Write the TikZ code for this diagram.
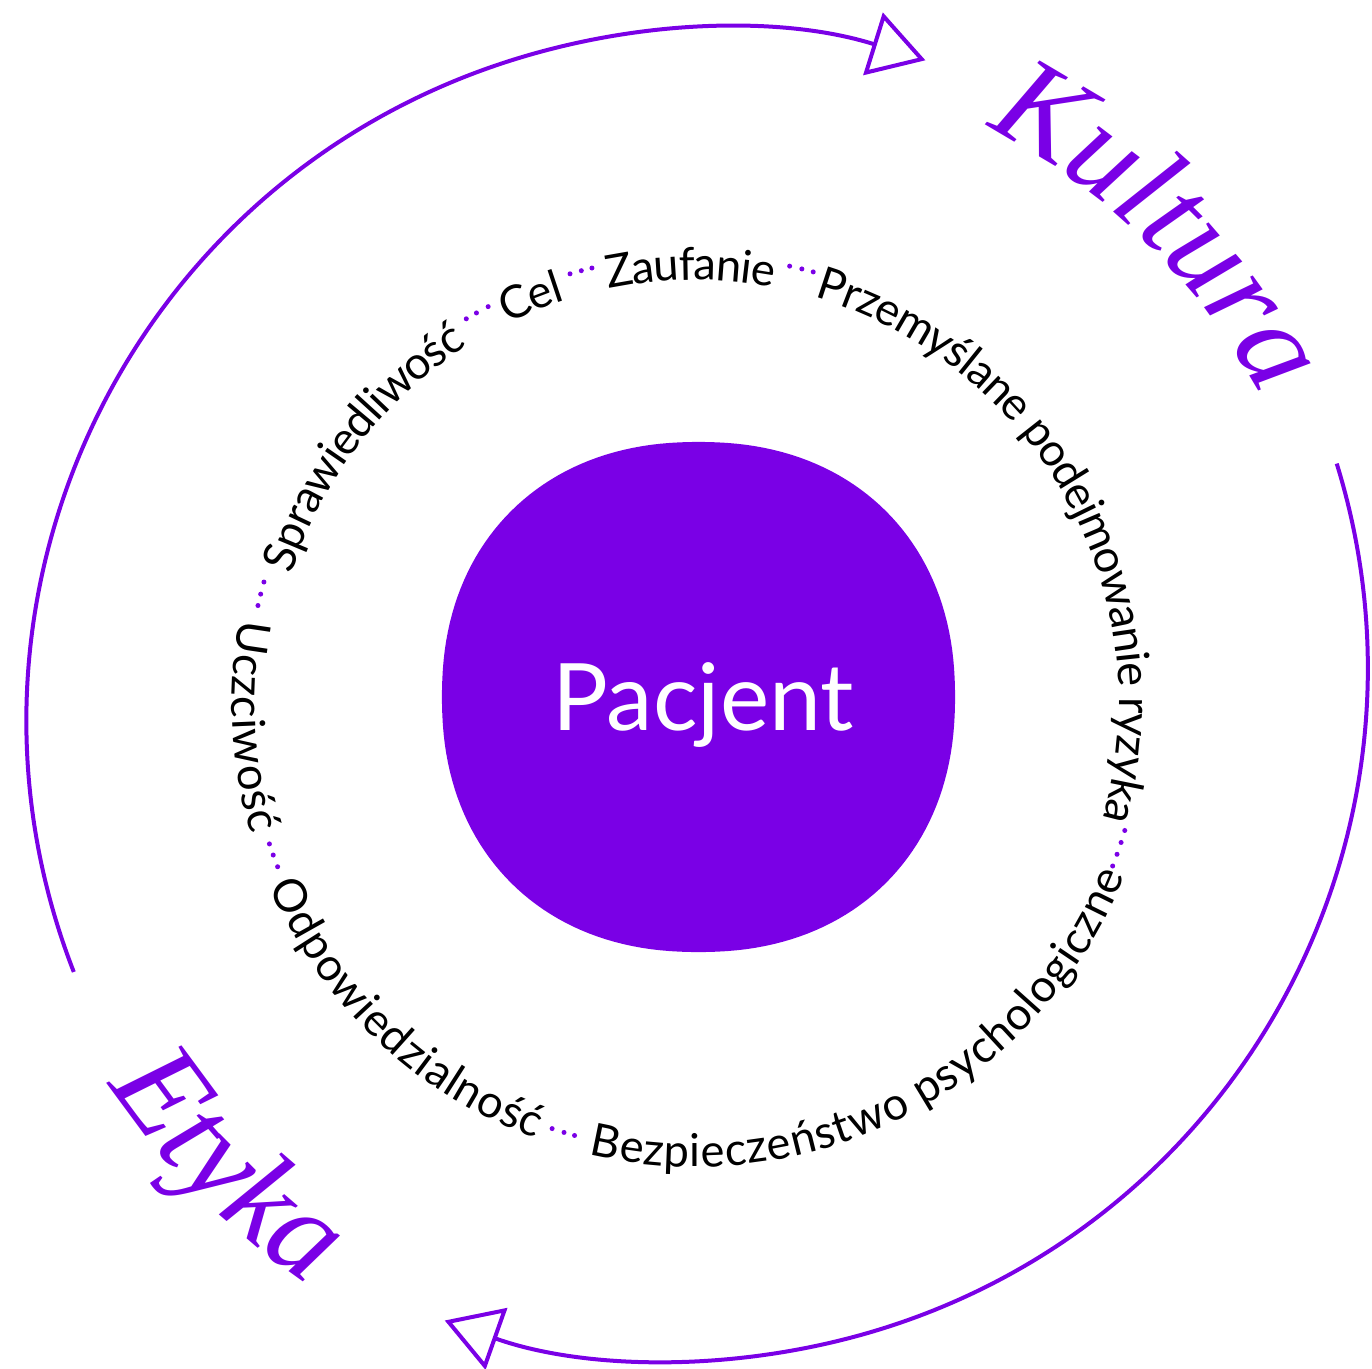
\documentclass[tikz,border=0pt]{standalone}
\usepackage{fontspec}
\setmainfont{Lato}
\newfontfamily\titlefont{Liberation Serif}
\usetikzlibrary{arrows.meta,decorations.text}
\definecolor{ringpurple}{RGB}{122,0,230}

\tikzset{
  cyclearrow/.style={draw=ringpurple, line width=0.8mm, -{Triangle[open,length=11mm,width=13mm]}},
  topword/.style={decorate, decoration={text along path, text align=center, raise=-4.6mm, text={|\RINGFONT|#1}}},
  botword/.style={decorate, decoration={text along path, text align=center, raise=-3.2mm, text={|\RINGFONT|#1}}},
  bigword/.style={decorate, decoration={text along path, text align=center, text color=ringpurple, text={|\BIGFONT|#1}}},
  ringdot/.style={fill=ringpurple}
}

\begin{document}
\begin{tikzpicture}[x=0.2mm, y=0.2mm]

\def\RINGFONT{\fontsize{25.8pt}{30pt}\selectfont}
\def\BIGFONT{\titlefont\itshape\fontsize{72pt}{78pt}\selectfont}
\def\RINGR{447}
\def\DOTR{448}
	\useasboundingbox (-698,-672) rectangle (674,696);

	% outer cycle
	\draw[cyclearrow, shift={(20.5,-24.6)}] (201.3:692) arc[start angle=201.3, end angle=72.6, radius=692];
	\draw[cyclearrow, shift={(-22.3,27.8)}] (17.2:692) arc[start angle=17.2, end angle=-109.5, radius=692];
	\path[bigword={Kultura}] (80.5:638) arc[start angle=80.5, end angle=10.5, radius=638];
	\path[bigword={Etyka}] (190:706) arc[start angle=190, end angle=260, radius=706];

	% values ring
	\begin{scope}[shift={(-3,-8)}]
	\path[topword={Sprawiedliwość}] (172.3:\RINGR) arc[start angle=172.3, end angle=112.3, radius=\RINGR];
	\path[topword={Cel}] (127:\RINGR) arc[start angle=127, end angle=97, radius=\RINGR];
	\path[topword={Zaufanie}] (110.6:\RINGR) arc[start angle=110.6, end angle=70.6, radius=\RINGR];
	\path[topword={Przemyślane podejmowanie ryzyka}] (93.9:\RINGR) arc[start angle=93.9, end angle=-36.1, radius=\RINGR];
	\path[botword={Uczciwość}] (162.9:\RINGR) arc[start angle=162.9, end angle=202.9, radius=\RINGR];
	\path[botword={Odpowiedzialność}] (196.5:\RINGR) arc[start angle=196.5, end angle=256.5, radius=\RINGR];
	\path[botword={Bezpieczeństwo psychologiczne}] (242.5:\RINGR) arc[start angle=242.5, end angle=352.5, radius=\RINGR];
	\foreach \a in {164.2,165.8,167.3, 120.7,119.2,117.5, 106.2,104.7,103.3, 77.8,76.2,74.7,
	                -16.4,-18.0,-19.6,-21.2, 198.2,199.7,201.3, 251.4,253.0,254.4}
	  \fill[ringdot] (\a:\DOTR) circle (0.5mm);
	\end{scope}

	\fill[ringpurple] plot[domain=1:359, samples=180] ({0.5+256.5*sign(cos(\x))*abs(cos(\x))^0.909}, {-1+255*sign(sin(\x))*abs(sin(\x))^0.909}) -- cycle;
	\node[text=white, font=\fontsize{53pt}{60pt}\selectfont, anchor=base] (pacjent) at (5,-34) {Pacjent};

\end{tikzpicture}
\end{document}
